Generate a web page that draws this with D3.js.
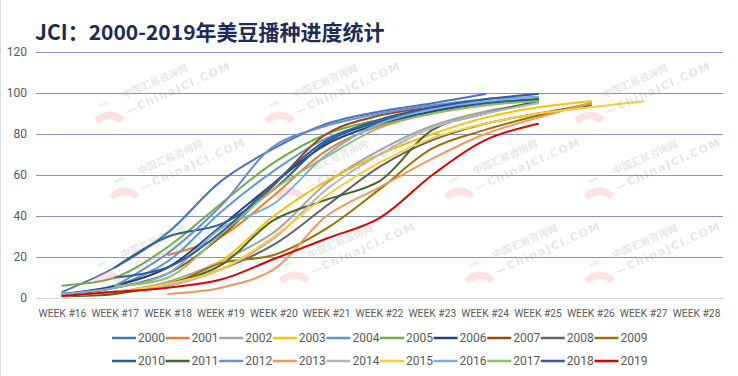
<!DOCTYPE html>
<html>
<head>
<meta charset="utf-8">
<script src="https://d3js.org/d3.v7.min.js"></script>
<style>
  body { margin: 0; background: #fff; }
  svg text { font-family: Roboto, 'Open Sans', sans-serif; }
</style>
</head>
<body>
<div id="svg-wrapper"></div>
<script>
// categories
var weeks = ["WEEK #16","WEEK #17","WEEK #18","WEEK #19","WEEK #20","WEEK #21","WEEK #22",
             "WEEK #23","WEEK #24","WEEK #25","WEEK #26","WEEK #27","WEEK #28"]
var years = ["2000","2001","2002","2003","2004","2005","2006","2007","2008","2009",
             "2010","2011","2012","2013","2014","2015","2016","2017","2018","2019"]
var yTicks = [0, 20, 40, 60, 80, 100, 120]

// % planted per week (null = not reported)
var s2000 = [3, 15, 32, 57, 73, 85, 91, 95, 99.5]
var s2001 = [null, null, 21, 30, 50, 72, 84, 90, 94, 97]
var s2002 = [1, 3, 8, 18, 32, 56, 72, 84, 91, 95]
var s2003 = [null, 3, 7, 18, 40, 57, 70, 80, 88, 93, 96]
var s2004 = [2, 6, 18, 42, 62, 78, 86, 91, 95, 97]
var s2005 = [6, 10, 25, 46, 66, 80, 87, 92, 95, 97]
var s2006 = [2, 6, 15, 35, 56, 75, 85, 91, 95, 97]
var s2007 = [1, 5, 12, 30, 55, 80, 89, 93, 95, 96]
var s2008 = [1, 3, 6, 14, 26, 45, 64, 77, 85, 90, 94]
var s2009 = [1, 3, 6, 17, 21, 34, 53, 73, 82, 89, 95]
var s2010 = [null, 15, 30, 36, 53, 76, 86, 92, 95, 97]
var s2011 = [1, 2, 7, 16, 38, 48, 57, 82, 90, 96]
var s2012 = [null, 6, 22, 45, 74, 84, 90, 94, 97, 98]
var s2013 = [null, null, 2, 5, 14, 40, 54, 68, 80, 88, 95]
var s2014 = [1, 3, 6, 14, 29, 53, 70, 83, 90, 95]
var s2015 = [1, 3, 7, 14, 30, 50, 66, 78, 85, 90, 93, 96]
var s2016 = [2, 5, 12, 34, 46, 70, 85, 92, 96, 98]
var s2017 = [null, 6, 10, 31, 53, 69, 83, 90, 94, 96]
var s2018 = [null, 10, 15, 32, 56, 77, 87, 93, 97, 99.5]
var s2019 = [1, 3, 5, 9, 19, 29, 39, 60, 77, 85]

var seriesValues = [s2000, s2001, s2002, s2003, s2004, s2005, s2006, s2007, s2008, s2009,
                    s2010, s2011, s2012, s2013, s2014, s2015, s2016, s2017, s2018, s2019]

var palette = ["#4472C4","#ED7D31","#A5A5A5","#FFC000","#5B9BD5","#70AD47","#264478","#9E480E","#636363","#997300",
               "#255E91","#43682B","#698ED0","#F1975A","#B7B7B7","#FFCD33","#7CAFDD","#8CC168","#335AA1","#E00000"]

var width = 738
var height = 376

var series = years.map((y, i) => ({
    year: y,
    color: palette[i],
    values: seriesValues[i].map((v, j) => ({week: weeks[j], value: v}))
}))

var x = d3.scalePoint().domain(weeks).range([36, 723]).padding(0.5)
var y = d3.scaleLinear().domain([0, 120]).range([298, 52])

var svg = d3.select("#svg-wrapper")
    .append("svg")
    .attr("width", width)
    .attr("height", height)
    .attr("viewBox", [0, 0, width, height])

svg.append("line")
    .attr("x1", 0.5).attr("x2", 0.5).attr("y1", 0).attr("y2", height)
    .attr("stroke", "#d9d9d9")

svg.append("text")
    .attr("x", 35).attr("y", 40)
    .attr("fill", "#1c2b5a")
    .style("font-family", "'Noto Sans CJK SC', sans-serif")
    .style("font-weight", "bold")
    .style("font-size", "21px")
    .text("JCI：2000-2019年美豆播种进度统计")

// gridlines
svg.append("g")
    .selectAll("line")
    .data(yTicks.filter(d => d > 0))
    .join("line")
    .attr("x1", 36).attr("x2", 723)
    .attr("y1", d => y(d) + 0.5).attr("y2", d => y(d) + 0.5)
    .attr("stroke", "#8796bb")
    .attr("stroke-width", 1)

svg.append("line")
    .attr("x1", 36).attr("x2", 723)
    .attr("y1", y(0) + 0.5).attr("y2", y(0) + 0.5)
    .attr("stroke", "#d9d9d9")

svg.append("g")
    .selectAll("text")
    .data(yTicks)
    .join("text")
    .attr("x", 27).attr("y", d => y(d) + 4)
    .attr("text-anchor", "end")
    .attr("fill", "#595959")
    .style("font-size", "12px")
    .text(d => d)

svg.append("g")
    .selectAll("text")
    .data(weeks)
    .join("text")
    .attr("x", d => x(d)).attr("y", 317)
    .attr("text-anchor", "middle")
    .attr("fill", "#595959")
    .style("font-size", "10.3px")
    .text(d => d)

var line = d3.line()
    .defined(d => d.value != null)
    .x(d => x(d.week))
    .y(d => y(d.value))
    .curve(d3.curveCatmullRom.alpha(0.5))

svg.append("g")
    .attr("fill", "none")
    .attr("stroke-width", 2)
    .attr("stroke-linecap", "round")
    .selectAll("path")
    .data(series)
    .join("path")
    .attr("stroke", d => d.color)
    .attr("d", d => line(d.values.filter(v => v.value != null)))

// watermark
var marks = [[150, 92], [165, 168], [148, 252], [320, 92], [330, 168], [335, 252],
             [500, 168], [520, 252], [630, 92], [640, 168], [640, 252]]
var wm = svg.append("g").attr("opacity", 0.25).style("pointer-events", "none")
    .selectAll("g")
    .data(marks)
    .join("g")
    .attr("transform", d => `translate(${d[0]},${d[1]}) rotate(-24)`)
wm.append("path")
    .attr("d", "M-62,2 C-50,-4 -38,2 -34,14 L-40,16 C-44,8 -52,6 -60,8 Z")
    .attr("fill", "#f08a8a")
wm.append("line")
    .attr("x1", -52).attr("x2", -42).attr("y1", -8).attr("y2", -8)
    .attr("stroke", "#8ee08e").attr("stroke-width", 3)
wm.append("text")
    .attr("x", -26).attr("y", -4)
    .attr("fill", "#9a9a9a")
    .style("font-family", "'Noto Sans CJK SC', sans-serif")
    .style("font-size", "10px")
    .style("font-weight", "bold")
    .text("中国汇易咨询网")
wm.append("text")
    .attr("x", -30).attr("y", 12)
    .attr("fill", "#9a9a9a")
    .style("font-family", "'DejaVu Sans', sans-serif")
    .style("font-size", "11px")
    .style("font-weight", "bold")
    .style("letter-spacing", "1.5px")
    .text("—ChinaJCI.COM")

// legend
var legend = svg.append("g")
    .selectAll("g")
    .data(series)
    .join("g")
    .attr("transform", (d, i) => `translate(${112 + (i % 10) * 53.6},${i < 10 ? 338 : 361})`)
legend.append("line")
    .attr("x1", 0).attr("x2", 24)
    .attr("stroke", d => d.color)
    .attr("stroke-width", 2.5)
legend.append("text")
    .attr("x", 26).attr("y", 4)
    .attr("fill", "#595959")
    .style("font-size", "12px")
    .text(d => d.year)
</script>
</body>
</html>
